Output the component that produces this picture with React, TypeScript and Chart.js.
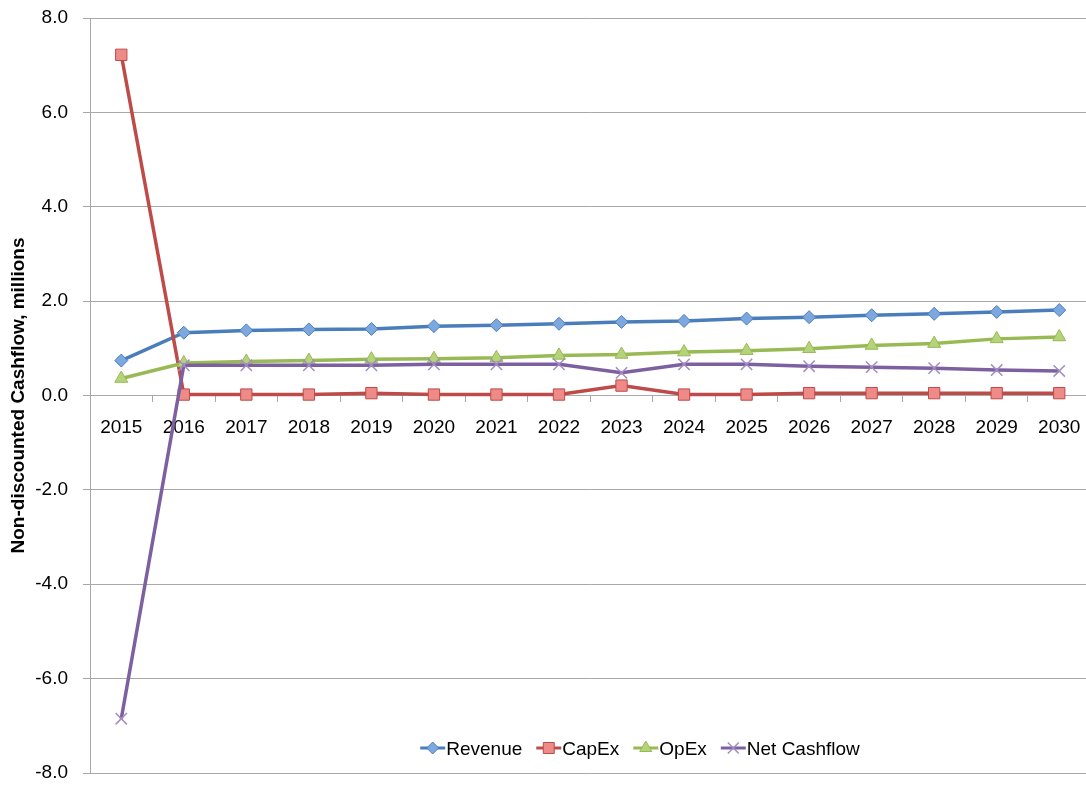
import React, { useEffect, useRef } from 'react';
import { Chart, registerables } from 'chart.js';

Chart.register(...registerables);

const years = ['2015', '2016', '2017', '2018', '2019', '2020', '2021', '2022', '2023', '2024', '2025', '2026', '2027', '2028', '2029', '2030'];
const revenue = [0.74, 1.33, 1.38, 1.40, 1.41, 1.47, 1.49, 1.52, 1.56, 1.58, 1.63, 1.66, 1.70, 1.73, 1.77, 1.81];
const capex = [7.22, 0.02, 0.02, 0.02, 0.05, 0.02, 0.02, 0.02, 0.21, 0.02, 0.02, 0.05, 0.05, 0.05, 0.05, 0.05];
const opex = [0.36, 0.69, 0.72, 0.74, 0.77, 0.78, 0.80, 0.85, 0.87, 0.92, 0.95, 0.99, 1.06, 1.10, 1.20, 1.24];
const netCashflow = [-6.85, 0.64, 0.64, 0.64, 0.64, 0.66, 0.66, 0.66, 0.48, 0.66, 0.66, 0.62, 0.60, 0.58, 0.54, 0.52];
const seriesNames = ['Revenue', 'CapEx', 'OpEx', 'Net Cashflow'];
const yMin = -8;
const yMax = 8;
const yStep = 2;
const yTitle = 'Non-discounted Cashflow, millions';

const FONT = "'Liberation Sans', Arial, sans-serif";
const GRID = '#a8a8a8';

type Marker = 'diamond' | 'square' | 'triangle' | 'cross';

function drawMarker(ctx: CanvasRenderingContext2D, kind: Marker, x: number, y: number, fill: string, stroke: string) {
  ctx.save();
  ctx.beginPath();
  ctx.fillStyle = fill;
  ctx.strokeStyle = stroke;
  ctx.lineWidth = 1;
  if (kind === 'diamond') {
    const r = 6;
    ctx.moveTo(x - r, y);
    ctx.lineTo(x, y - r);
    ctx.lineTo(x + r, y);
    ctx.lineTo(x, y + r);
    ctx.closePath();
    ctx.fill();
    ctx.stroke();
  } else if (kind === 'square') {
    const s = 5.5;
    ctx.rect(x - s, y - s, 2 * s, 2 * s);
    ctx.fill();
    ctx.stroke();
  } else if (kind === 'triangle') {
    const r = 7;
    ctx.moveTo(x, y - r);
    ctx.lineTo(x + r * 0.866, y + r * 0.5);
    ctx.lineTo(x - r * 0.866, y + r * 0.5);
    ctx.closePath();
    ctx.fill();
    ctx.stroke();
  } else {
    const r = 5.5;
    ctx.lineWidth = 1.5;
    ctx.moveTo(x - r, y - r);
    ctx.lineTo(x + r, y + r);
    ctx.moveTo(x + r, y - r);
    ctx.lineTo(x - r, y + r);
    ctx.stroke();
  }
  ctx.restore();
}

const legendStyles: { line: string; fill: string; stroke: string; marker: Marker }[] = [
  { line: '#4A7EBB', fill: '#7DA8DF', stroke: '#4A7EBB', marker: 'diamond' },
  { line: '#BE4B48', fill: '#EE8A87', stroke: '#BE4B48', marker: 'square' },
  { line: '#98B954', fill: '#B5D47A', stroke: '#98B954', marker: 'triangle' },
  { line: '#7D60A0', fill: '#A38CC4', stroke: '#A38CC4', marker: 'cross' },
];

const insideLegend = {
  id: 'insideLegend',
  afterDraw(chart: any) {
    const ctx: CanvasRenderingContext2D = chart.ctx;
    ctx.save();
    ctx.font = `19px ${FONT}`;
    ctx.fillStyle = '#000';
    ctx.textBaseline = 'alphabetic';
    ctx.textAlign = 'left';
    const symW = 25;
    const gapText = 1;
    const gapItem = 14;
    let total = 0;
    seriesNames.forEach((n, i) => {
      total += symW + gapText + ctx.measureText(n).width + (i < seriesNames.length - 1 ? gapItem : 0);
    });
    let x = 640 - total / 2;
    const yMid = 748;
    seriesNames.forEach((n, i) => {
      const st = legendStyles[i];
      ctx.beginPath();
      ctx.strokeStyle = st.line;
      ctx.lineWidth = 3;
      ctx.moveTo(x, yMid);
      ctx.lineTo(x + symW, yMid);
      ctx.stroke();
      drawMarker(ctx, st.marker, x + symW / 2, yMid, st.fill, st.stroke);
      x += symW + gapText;
      ctx.fillStyle = '#000';
      ctx.fillText(n, x, yMid + 7);
      x += ctx.measureText(n).width + gapItem;
    });
    ctx.restore();
  },
};

export default function App() {
  const ref = useRef<HTMLCanvasElement>(null);
  useEffect(() => {
    if (!ref.current) return;
    const chart = new Chart(ref.current, {
      type: 'line',
      data: {
        labels: years,
        datasets: [
          {
            label: seriesNames[0],
            data: revenue,
            borderColor: '#4A7EBB',
            backgroundColor: '#7DA8DF',
            borderWidth: 3.5,
            pointStyle: 'rectRot',
            pointRadius: 6.5,
            pointBorderColor: '#4A7EBB',
            pointBackgroundColor: '#7DA8DF',
            pointBorderWidth: 1,
            order: 3,
            tension: 0,
          },
          {
            label: seriesNames[1],
            data: capex,
            borderColor: '#BE4B48',
            backgroundColor: '#EE8A87',
            borderWidth: 3.5,
            pointStyle: 'rect',
            pointRadius: 8,
            pointBorderColor: '#BE4B48',
            pointBackgroundColor: '#EE8A87',
            pointBorderWidth: 1,
            order: 2,
            tension: 0,
          },
          {
            label: seriesNames[2],
            data: opex,
            borderColor: '#98B954',
            backgroundColor: '#B5D47A',
            borderWidth: 3.5,
            pointStyle: 'triangle',
            pointRadius: 7.5,
            pointBorderColor: '#98B954',
            pointBackgroundColor: '#B5D47A',
            pointBorderWidth: 1,
            order: 1,
            tension: 0,
          },
          {
            label: seriesNames[3],
            data: netCashflow,
            borderColor: '#7D60A0',
            backgroundColor: '#A38CC4',
            borderWidth: 3.5,
            pointStyle: 'crossRot',
            pointRadius: 8,
            pointBorderColor: '#A38CC4',
            pointBackgroundColor: '#A38CC4',
            pointBorderWidth: 1.5,
            order: 0,
            tension: 0,
          },
        ],
      },
      options: {
        responsive: false,
        animation: false,
        events: [],
        layout: { padding: { left: 0, right: 0, top: 18, bottom: 14 } },
        plugins: {
          legend: { display: false },
          tooltip: { enabled: false },
        },
        scales: {
          x: {
            type: 'category',
            offset: true,
            position: { y: 0 } as any,
            afterFit: (s: any) => { s.height = 0; s.paddingTop = 0; s.paddingBottom = 0; },
            grid: {
              display: true,
              drawOnChartArea: false,
              drawTicks: true,
              tickLength: 6,
              offset: true,
              color: GRID,
            },
            border: { display: true, color: GRID, width: 1 },
            ticks: {
              color: '#000',
              font: { family: FONT, size: 19 },
              padding: 15,
              maxRotation: 0,
              autoSkip: false,
            },
          },
          y: {
            min: yMin,
            max: yMax,
            afterFit: (s: any) => { s.width = 90; s.paddingTop = 0; s.paddingBottom = 0; },
            afterBuildTicks: (s: any) => {
              const t = [];
              for (let v = yMin; v <= yMax; v += yStep) t.push({ value: v });
              s.ticks = t;
            },
            grid: {
              color: GRID,
              drawTicks: true,
              tickLength: 7,
            },
            border: { display: true, color: GRID, width: 1 },
            ticks: {
              color: '#000',
              font: { family: FONT, size: 19 },
              padding: 15,
              callback: (v: any) => Number(v).toFixed(1),
            },
            title: {
              display: true,
              text: yTitle,
              color: '#000',
              font: { family: FONT, size: 19, weight: 'bold' },
              padding: { top: 7, bottom: 0 },
            },
          },
        },
      },
      plugins: [insideLegend],
    });
    return () => chart.destroy();
  }, []);
  return (
    <div style={{ position: 'fixed', left: 0, top: 0, width: 1086, height: 787, overflow: 'hidden', background: '#fff' }}>
      <canvas ref={ref} width={1100} height={787} style={{ display: 'block' }} />
    </div>
  );
}
